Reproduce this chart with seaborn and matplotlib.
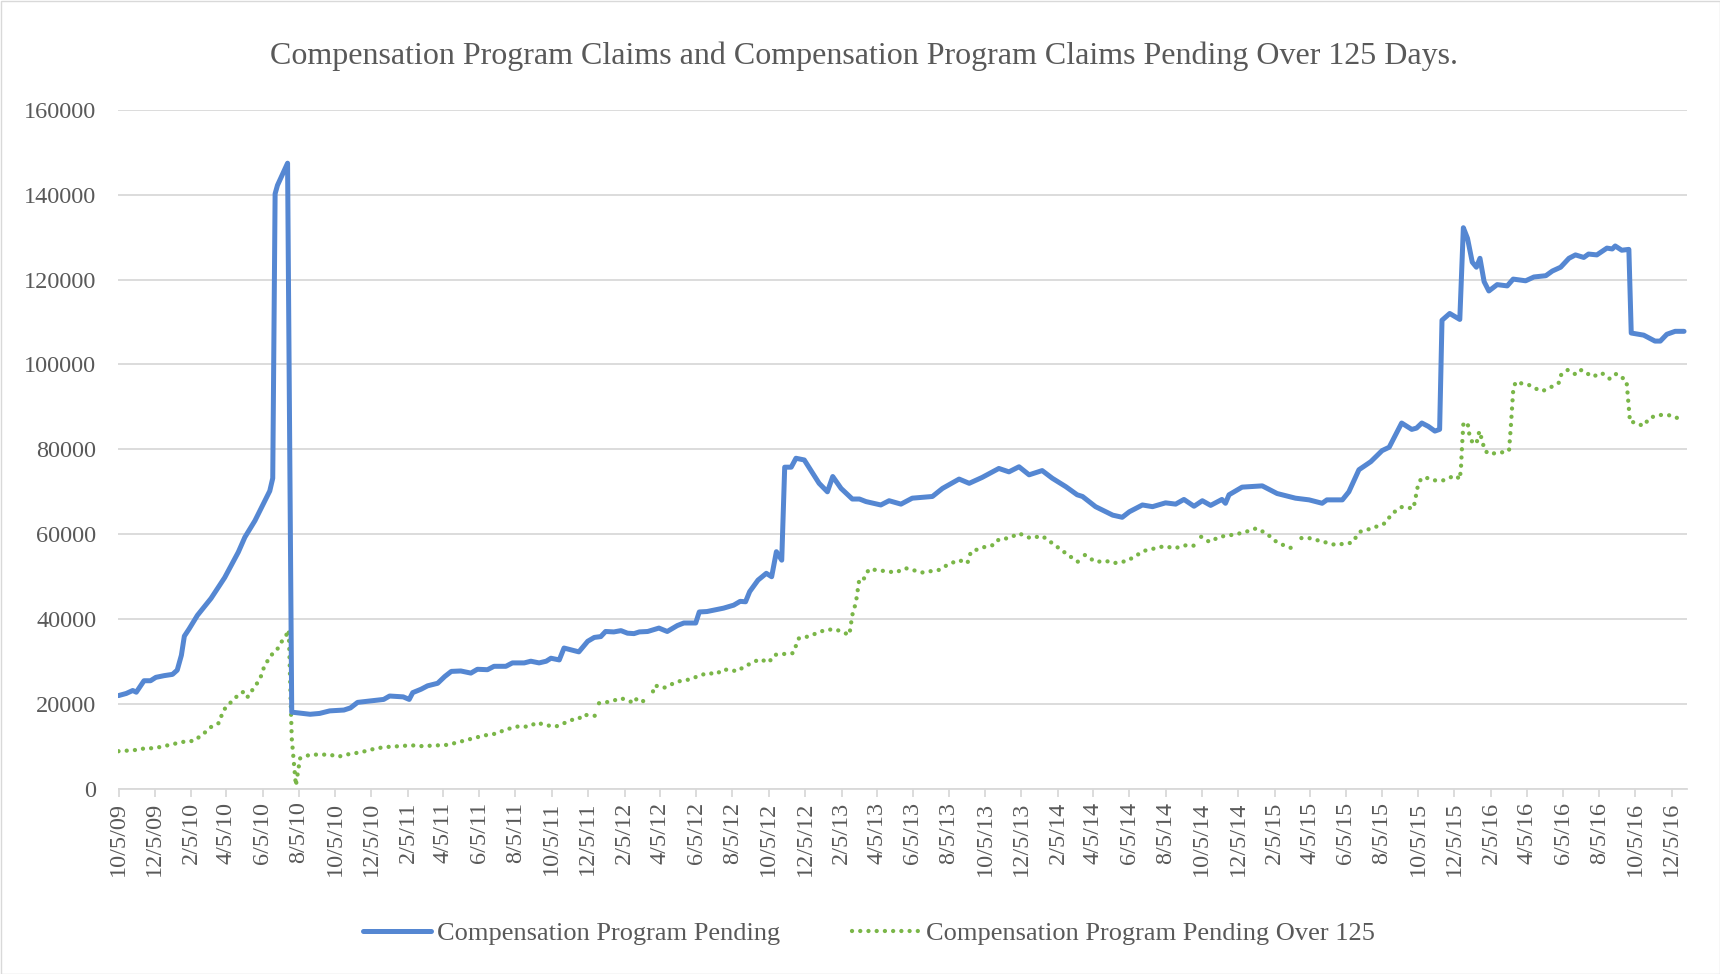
import numpy as np
import pandas as pd
import matplotlib
matplotlib.use("Agg")
import matplotlib.pyplot as plt
import matplotlib.dates as mdates
from matplotlib.lines import Line2D
from matplotlib.patches import Rectangle
import seaborn as sns

title = "Compensation Program Claims and Compensation Program Claims Pending Over 125 Days."
label_pending = "Compensation Program Pending"
label_over125 = "Compensation Program Pending Over 125"

pending_dates = [
    "2009-10-05", "2009-10-18", "2009-10-29", "2009-11-04", "2009-11-17", "2009-11-28",
    "2009-12-07", "2009-12-21", "2010-01-04", "2010-01-12", "2010-01-19", "2010-01-24",
    "2010-02-01", "2010-02-15", "2010-03-10", "2010-04-02", "2010-04-25", "2010-05-06",
    "2010-05-23", "2010-06-08", "2010-06-17", "2010-06-22", "2010-06-26", "2010-06-30",
    "2010-07-17", "2010-07-24", "2010-08-24", "2010-09-09", "2010-09-26", "2010-10-20",
    "2010-10-31", "2010-11-12", "2010-12-26", "2011-01-05", "2011-01-28", "2011-02-07",
    "2011-02-13", "2011-02-27", "2011-03-10", "2011-03-27", "2011-04-08", "2011-04-19",
    "2011-05-05", "2011-05-22", "2011-06-02", "2011-06-19", "2011-06-30", "2011-07-20",
    "2011-07-31", "2011-08-20", "2011-08-31", "2011-09-14", "2011-09-26", "2011-10-04",
    "2011-10-18", "2011-10-26", "2011-11-06", "2011-11-20", "2011-12-05", "2011-12-16",
    "2011-12-27", "2012-01-04", "2012-01-18", "2012-01-30", "2012-02-10", "2012-02-21",
    "2012-03-01", "2012-03-15", "2012-04-03", "2012-04-17", "2012-05-04", "2012-05-15",
    "2012-06-04", "2012-06-10", "2012-06-23", "2012-07-21", "2012-08-07", "2012-08-18",
    "2012-08-27", "2012-09-03", "2012-09-17", "2012-10-01", "2012-10-10", "2012-10-18",
    "2012-10-27", "2012-11-01", "2012-11-12", "2012-11-20", "2012-12-04", "2012-12-29",
    "2013-01-12", "2013-01-21", "2013-02-04", "2013-02-23", "2013-03-07", "2013-03-18",
    "2013-04-12", "2013-04-26", "2013-05-16", "2013-06-04", "2013-07-08", "2013-07-25",
    "2013-08-22", "2013-09-08", "2013-09-30", "2013-10-28", "2013-11-14", "2013-12-01",
    "2013-12-18", "2014-01-09", "2014-01-26", "2014-02-18", "2014-03-09", "2014-03-18",
    "2014-04-09", "2014-05-08", "2014-05-24", "2014-06-05", "2014-06-27", "2014-07-14",
    "2014-08-05", "2014-08-22", "2014-09-05", "2014-09-22", "2014-10-06", "2014-10-20",
    "2014-11-08", "2014-11-14", "2014-11-20", "2014-12-12", "2015-01-15", "2015-02-09",
    "2015-03-12", "2015-04-04", "2015-04-26", "2015-05-04", "2015-05-30", "2015-06-10",
    "2015-06-27", "2015-07-17", "2015-08-05", "2015-08-17", "2015-09-07", "2015-09-24",
    "2015-10-02", "2015-10-11", "2015-10-22", "2015-11-02", "2015-11-10", "2015-11-14",
    "2015-11-27", "2015-12-14", "2015-12-20", "2015-12-27", "2016-01-04", "2016-01-11",
    "2016-01-17", "2016-01-24", "2016-02-01", "2016-02-15", "2016-03-03", "2016-03-13",
    "2016-04-03", "2016-04-17", "2016-05-07", "2016-05-18", "2016-06-01", "2016-06-15",
    "2016-06-26", "2016-07-10", "2016-07-18", "2016-08-01", "2016-08-18", "2016-08-27",
    "2016-09-01", "2016-09-12", "2016-09-24", "2016-09-28", "2016-10-19", "2016-11-07",
    "2016-11-16", "2016-11-27", "2016-12-11", "2016-12-26",
]
pending_values = [
    22000, 22500, 23200, 22800, 25500, 25500,
    26300, 26700, 27000, 28000, 31500, 36000,
    37700, 40900, 44900, 49800, 55800, 59300,
    63200, 67700, 70200, 73200, 140200, 142200,
    147400, 18100, 17600, 17800, 18400, 18600,
    19100, 20400, 21100, 21900, 21700, 21100,
    22700, 23500, 24300, 24900, 26500, 27700,
    27800, 27300, 28200, 28100, 28900, 28900,
    29700, 29700, 30100, 29700, 30100, 30800,
    30400, 33200, 32800, 32300, 34800, 35700,
    35900, 37100, 37000, 37300, 36700, 36600,
    37000, 37100, 37900, 37100, 38500, 39100,
    39100, 41700, 41800, 42600, 43300, 44200,
    44100, 46500, 49200, 50800, 50000, 55900,
    53900, 75800, 75800, 77900, 77500, 72000,
    70000, 73600, 70800, 68300, 68300, 67700,
    66900, 67900, 67100, 68500, 68900, 70800,
    73000, 72000, 73400, 75500, 74700, 75900,
    74000, 75000, 73200, 71200, 69300, 68900,
    66500, 64500, 64000, 65300, 66900, 66500,
    67400, 67100, 68200, 66600, 67900, 66800,
    68200, 67300, 69300, 71100, 71400, 69600,
    68500, 68100, 67300, 68100, 68100, 70000,
    75200, 77100, 79700, 80500, 86200, 84700,
    85000, 86200, 85400, 84300, 84700, 110400,
    112000, 110600, 132200, 129700, 124100, 122900,
    125000, 119500, 117300, 118800, 118500, 120100,
    119700, 120600, 120900, 122000, 122900, 125000,
    125800, 125200, 126000, 125800, 127400, 127200,
    127900, 126900, 127100, 107400, 106900, 105500,
    105500, 107100, 107800, 107800,
]

over125_dates = [
    "2009-10-05", "2009-10-26", "2009-11-12", "2009-11-17", "2009-12-04", "2009-12-21",
    "2010-01-12", "2010-01-29", "2010-02-09", "2010-02-26", "2010-03-10", "2010-03-24",
    "2010-03-30", "2010-04-10", "2010-04-19", "2010-04-27", "2010-05-06", "2010-05-11",
    "2010-05-17", "2010-05-25", "2010-06-02", "2010-06-08", "2010-06-17", "2010-06-24",
    "2010-06-30", "2010-07-07", "2010-07-14", "2010-07-19", "2010-07-24", "2010-07-31",
    "2010-08-07", "2010-08-24", "2010-09-09", "2010-09-26", "2010-10-10", "2010-10-31",
    "2010-11-16", "2010-11-30", "2010-12-14", "2010-12-31", "2011-01-23", "2011-02-10",
    "2011-02-27", "2011-03-16", "2011-04-13", "2011-04-30", "2011-05-22", "2011-06-13",
    "2011-07-06", "2011-07-17", "2011-08-08", "2011-08-28", "2011-09-11", "2011-09-22",
    "2011-10-12", "2011-10-26", "2011-11-09", "2011-11-20", "2011-11-26", "2011-12-21",
    "2011-12-22", "2011-12-24", "2012-01-13", "2012-01-30", "2012-02-15", "2012-02-21",
    "2012-02-26", "2012-03-09", "2012-03-20", "2012-03-22", "2012-03-24", "2012-03-27",
    "2012-04-11", "2012-05-04", "2012-05-21", "2012-06-07", "2012-06-23", "2012-07-10",
    "2012-07-18", "2012-08-01", "2012-08-12", "2012-08-26", "2012-09-20", "2012-10-05",
    "2012-10-15", "2012-11-15", "2012-11-25", "2012-12-10", "2013-01-09", "2013-01-26",
    "2013-02-18", "2013-02-23", "2013-03-01", "2013-03-07", "2013-03-15", "2013-03-23",
    "2013-05-07", "2013-05-24", "2013-06-21", "2013-07-19", "2013-08-05", "2013-08-22",
    "2013-09-05", "2013-09-11", "2013-10-06", "2013-10-20", "2013-10-28", "2013-11-14",
    "2013-12-01", "2013-12-20", "2014-01-09", "2014-01-26", "2014-02-18", "2014-03-09",
    "2014-03-16", "2014-03-19", "2014-03-22", "2014-04-09", "2014-04-27", "2014-05-10",
    "2014-06-01", "2014-06-30", "2014-08-03", "2014-08-20", "2014-09-11", "2014-09-28",
    "2014-10-01", "2014-10-04", "2014-10-18", "2014-11-04", "2014-12-02", "2014-12-19",
    "2015-01-05", "2015-01-22", "2015-02-08", "2015-02-25", "2015-03-16", "2015-03-19",
    "2015-03-22", "2015-04-04", "2015-04-26", "2015-05-18", "2015-06-15", "2015-06-29",
    "2015-07-19", "2015-08-10", "2015-08-22", "2015-09-07", "2015-09-27", "2015-10-01",
    "2015-10-05", "2015-10-11", "2015-10-25", "2015-11-02", "2015-11-16", "2015-11-30",
    "2015-12-08", "2015-12-14", "2015-12-16", "2015-12-18", "2015-12-20", "2015-12-27",
    "2015-12-30", "2016-01-04", "2016-01-11", "2016-01-16", "2016-01-22", "2016-01-24",
    "2016-02-01", "2016-02-12", "2016-02-29", "2016-03-06", "2016-03-09", "2016-03-13",
    "2016-03-17", "2016-03-28", "2016-04-08", "2016-04-20", "2016-05-01", "2016-05-15",
    "2016-05-29", "2016-06-02", "2016-06-13", "2016-06-27", "2016-07-06", "2016-07-25",
    "2016-08-09", "2016-08-23", "2016-09-03", "2016-09-20", "2016-09-26", "2016-10-04",
    "2016-10-18", "2016-10-30", "2016-11-16", "2016-12-05", "2016-12-19", "2016-12-26",
]
over125_values = [
    8900, 9100, 9300, 9600, 9600, 10100,
    10800, 11300, 11300, 13100, 14600, 15600,
    18400, 20100, 21300, 22500, 23000, 21700,
    23000, 24500, 26500, 29000, 31000, 32300,
    33000, 34700, 36000, 37500, 12000, 800,
    7200, 8100, 8100, 8100, 7600, 8300,
    8600, 9100, 9600, 9900, 10100, 10300,
    10100, 10200, 10400, 11000, 11800, 12600,
    13100, 13900, 14700, 14700, 15700, 15100,
    14700, 15500, 16300, 16500, 17500, 17200,
    np.nan, 20200, 20600, 21400, 20600, 20200,
    21400, 20600, 20200, np.nan, 23000, 24400,
    23800, 25300, 25700, 26500, 27300, 27100,
    28100, 28100, 27700, 28900, 30600, 29800,
    31600, 32000, 35500, 35900, 37500, 37600,
    36300, 41000, 43900, 49600, 49600, 51800,
    51000, 52000, 51000, 51600, 53000, 53900,
    53200, 55900, 57100, 57500, 58800, 59100,
    60200, 59100, 59600, 57900, 55500, 53600,
    53300, np.nan, 55100, 53500, 53700, 53200,
    53700, 56100, 57200, 56700, 57500, 57200,
    np.nan, 59400, 58200, 59400, 60000, 60600,
    61400, 60200, 58200, 57100, 56300, np.nan,
    59100, 59100, 58300, 57500, 58000, 60600,
    61400, 62600, 64900, 66400, 66100, 69000,
    71900, 73300, 73200, 72700, 72700, 73500,
    73800, 72900, 75700, 81300, 85900, 86400,
    83600, 81700, 81300, 84300, 81500, 79900,
    78900, 79100, 79400, 79700, 85300, 93800,
    95900, 95500, 95200, 94300, 93700, 94600,
    95700, 97600, 98700, 97600, 98700, 97100,
    98000, 96600, 97800, 96200, 86400, 86400,
    85500, 87500, 88100, 88000, 87100, 87000,
]

blue = "#5587D2"
green = "#7AB648"
text_gray = "#595959"
grid_gray = "#D9D9D9"

sns.set_theme(style="white")
plt.rcParams["font.family"] = ["Liberation Serif", "DejaVu Serif"]

df_p = pd.DataFrame({"date": pd.to_datetime(pending_dates), "value": pending_values})
df_g = pd.DataFrame({"date": pd.to_datetime(over125_dates), "value": over125_values})
df_g["seg"] = df_g["value"].isna().cumsum()
df_g = df_g.dropna()

W, H = 1720, 974
fig = plt.figure(figsize=(W / 100, H / 100), dpi=100)
left, right, top, bottom = 118.5, 1687, 109.7, 789
ax = fig.add_axes([left / W, 1 - bottom / H, (right - left) / W, (bottom - top) / H])

green_ls = (0, (0.01, 1.9))
sns.lineplot(data=df_g, x="date", y="value", units="seg", estimator=None, ax=ax,
             color=green, linewidth=3.1, linestyle=green_ls,
             dash_capstyle="round", legend=False, zorder=3)
sns.lineplot(data=df_p, x="date", y="value", ax=ax, color=blue, linewidth=3.6,
             legend=False, zorder=4, solid_joinstyle="round")

ax.set_ylim(0, 160000)
ax.set_yticks(np.arange(0, 160001, 20000))
ax.set_xlim(pd.Timestamp("2009-10-05"), pd.Timestamp("2016-12-31"))
ax.xaxis.set_major_locator(mdates.MonthLocator(bymonth=[2, 4, 6, 8, 10, 12], bymonthday=5))
ax.xaxis.set_major_formatter(matplotlib.ticker.FuncFormatter(
    lambda x, pos: (lambda d: f"{d.month}/{d.day}/{d.year % 100:02d}")(mdates.num2date(x))))

ax.grid(axis="y", color=grid_gray, linewidth=1.3)
ax.set_axisbelow(True)
for s in ["left", "right", "top"]:
    ax.spines[s].set_visible(False)
ax.spines["bottom"].set_color(grid_gray)
ax.spines["bottom"].set_linewidth(1.3)
ax.tick_params(axis="x", which="major", bottom=True, length=6, width=1.3, color=grid_gray,
               labelrotation=90, labelsize=17.5, labelcolor=text_gray, pad=3)
ax.tick_params(axis="y", length=0, labelsize=17.5, labelcolor=text_gray, pad=16)
ax.set_xlabel("")
ax.set_ylabel("")

fig.text(864 / W, 1 - 56 / H, title, ha="center", va="center", fontsize=23, color=text_gray)

handles = [
    Line2D([], [], color=blue, linewidth=3.6, solid_capstyle="round"),
    Line2D([], [], color=green, linewidth=3.1, linestyle=green_ls, dash_capstyle="round"),
]
fig.legend(handles, [label_pending, label_over125], loc="center",
           bbox_to_anchor=(869 / W, 1 - 933 / H), ncol=2, frameon=False,
           fontsize=19, labelcolor=text_gray, handlelength=2.6, handletextpad=0.2,
           columnspacing=2.75)

fig.patches.append(Rectangle((0.5 / W, 0.5 / H), 1 - 1 / W, 1 - 1 / H, transform=fig.transFigure,
                             fill=False, edgecolor=grid_gray, linewidth=1))

fig.savefig("out.png", dpi=100, facecolor="white")
